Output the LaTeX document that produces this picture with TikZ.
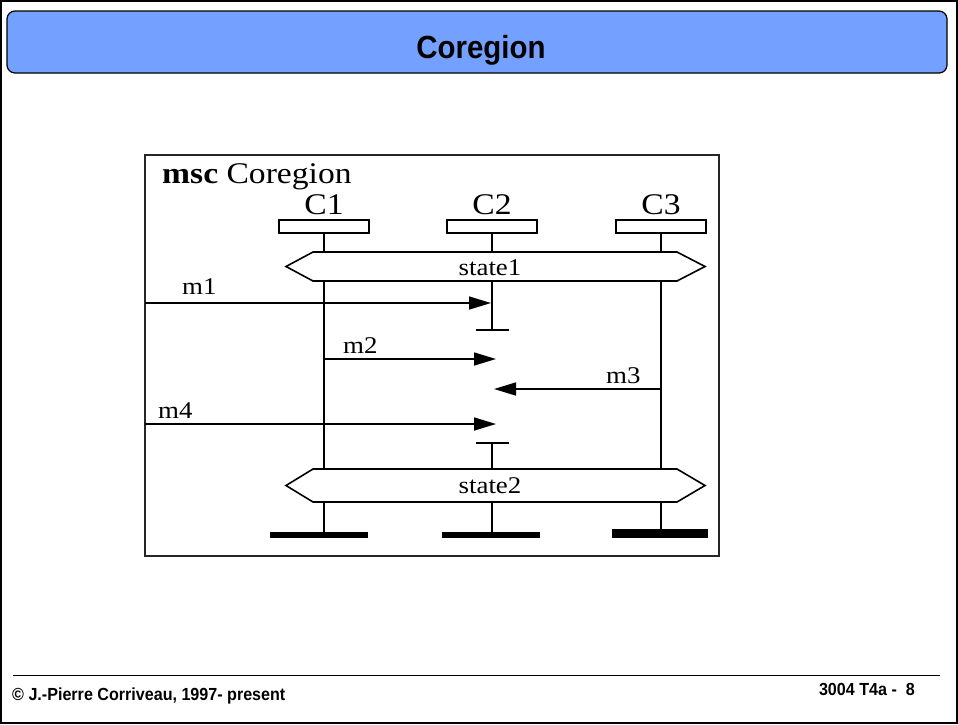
\documentclass[tikz,border=0pt]{standalone}
\usepackage{fontspec}
\setmainfont{Liberation Serif}[FakeStretch=1.12]
\newfontfamily\slidefont{Liberation Sans}[FakeStretch=0.92]
\usetikzlibrary{arrows.meta,positioning}
\definecolor{titleblue}{RGB}{116,161,255}

\begin{document}
\begin{tikzpicture}[x=1pt,y=-1pt,
  msg/.style={line width=1.6pt,-{Triangle[length=22pt,width=13pt]}},
  life/.style={line width=1.6pt},
  instbox/.style={draw,line width=1.8pt,minimum width=90pt,minimum height=13pt,inner sep=0pt},
  insthead/.style={inner sep=0pt,font=\fontsize{30}{30}\selectfont},
  endbar/.style={fill=black,inner sep=0pt,minimum height=6pt},
  lbl/.style={inner sep=0pt,anchor=base west,font=\fontsize{24}{24}\selectfont},
  statebox/.style={line width=1.6pt,line join=miter}]
\useasboundingbox (0,0) rectangle (958,724);
\draw[line width=2pt] (1,1) rectangle (957,723);
\node[draw,line width=1.2pt,fill=titleblue,rounded corners=8pt,minimum width=940pt,minimum height=62pt,inner sep=0pt] (TitleBar) at (477,42) {};
\node[anchor=base,inner sep=0pt,font=\slidefont\bfseries\fontsize{32}{32}\selectfont] (Title) at (481,58) {Coregion};
\draw[line width=1pt] (13,675) -- (940,675);
\node[anchor=base west,inner sep=0pt,font=\slidefont\bfseries\fontsize{17.5}{17.5}\selectfont] (Copyright) at (12,700) {© J.-Pierre Corriveau, 1997- present};
\node[anchor=base east,inner sep=0pt,font=\slidefont\bfseries\fontsize{17.5}{17.5}\selectfont] (SlideNo) at (915,695) {3004 T4a -\ \ 8};

\draw[line width=1.8pt,black!85] (145,155) rectangle (719,556);
\node[anchor=base west,inner sep=0pt,font=\fontsize{30}{30}\selectfont] (MscName) at (162,183) {\textbf{msc} Coregion};
\foreach \inst/\x in {C1/324,C2/492,C3/661}{
  \node[instbox] (\inst-box) at (\x,226.5) {};
  \node[insthead,above=4pt of \inst-box] (\inst) {\inst};
}
\foreach \st/\ya/\yb/\yt in {state1/252/281/275,state2/469/502/493}{
  \draw[statebox] (286,{(\ya+\yb)/2}) -- (313,\ya) -- (677,\ya) -- (705,{(\ya+\yb)/2}) -- (677,\yb) -- (313,\yb) -- cycle;
  \node[anchor=base,inner sep=0pt,font=\fontsize{24}{24}\selectfont] (\st) at (490,\yt) {\st};
  \coordinate (\st-top) at (0,\ya);
  \coordinate (\st-bot) at (0,\yb);
}
\node[endbar,minimum width=98pt] (C1-end) at (319,535) {};
\node[endbar,minimum width=98pt] (C2-end) at (491,535) {};
\node[endbar,minimum width=96pt,minimum height=9pt] (C3-end) at (660,533.5) {};
\foreach \inst in {C1,C2,C3}{
  \draw[life] (\inst-box.south) -- (\inst-box.south |- state1-top);
  \draw[life] (\inst-box.south |- state2-bot) -- (\inst-box.south |- \inst-end.north);
}
\draw[life] (C1-box.south |- state1-bot) -- (C1-box.south |- state2-top);
\draw[life] (C3-box.south |- state1-bot) -- (C3-box.south |- state2-top);
\coordinate (C2-stop) at (492,330);
\coordinate (C2-start) at (492,443);
\draw[life] (C2-box.south |- state1-bot) -- (C2-stop);
\draw[life] ([xshift=-16.5pt]C2-stop) -- ([xshift=16.5pt]C2-stop);
\draw[life] ([xshift=-16.5pt]C2-start) -- ([xshift=16.5pt]C2-start);
\draw[life] (C2-start) -- (C2-box.south |- state2-top);

\coordinate (m1-in) at (145,303);
\coordinate (m1-out) at (491,303);
\coordinate (m2-in) at (324,359);
\coordinate (m2-out) at (496,359);
\coordinate (m3-in) at (661,389);
\coordinate (m3-out) at (494,389);
\coordinate (m4-in) at (145,424);
\coordinate (m4-out) at (496,424);
\foreach \m in {m1,m2,m3,m4} \draw[msg] (\m-in) -- (\m-out);
\node[lbl] (m1) at (182,294) {m1};
\node[lbl] (m2) at (343,353) {m2};
\node[lbl] (m3) at (606,383) {m3};
\node[lbl] (m4) at (158,418) {m4};
\end{tikzpicture}
\end{document}
